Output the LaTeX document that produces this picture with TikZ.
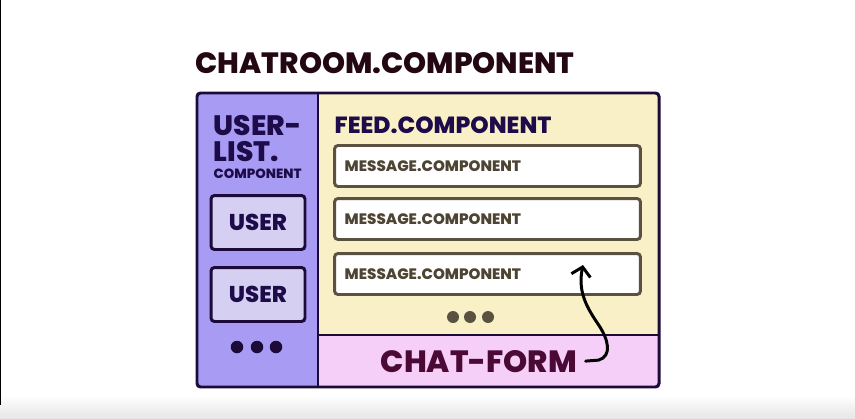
\documentclass[tikz,border=0pt]{standalone}
\usepackage{fontspec}
\setmainfont{Poppins}[BoldFont={Poppins ExtraBold}]
\usetikzlibrary{arrows.meta}

\definecolor{navy}{HTML}{1C0A38}
\definecolor{titlecol}{HTML}{230814}
\definecolor{feedcol}{HTML}{1E0C4A}
\definecolor{listfill}{HTML}{A89BF3}
\definecolor{userfill}{HTML}{D5D0F2}
\definecolor{feedfill}{HTML}{FAF0C8}
\definecolor{formfill}{HTML}{F6CFF8}
\definecolor{formcol}{HTML}{4A0A35}
\definecolor{msgline}{HTML}{5B5140}
\definecolor{msgcol}{HTML}{4D4433}

\begin{document}
\begin{tikzpicture}[x=0.02cm, y=-0.02cm, >={Straight Barb[length=5pt, width=11pt]}, thick,
    lbl/.style={inner sep=0pt, anchor=base west, font=\bfseries},
    msgbox/.style={draw=msgline, fill=white, line width=1.7pt, rounded corners=2pt,
        minimum width=6.12cm, minimum height=0.82cm},
    msgtxt/.style={inner sep=0pt, anchor=west, text=msgcol,
        font=\fontsize{8.6}{8.6}\selectfont\bfseries},
    userbox/.style={draw=navy, fill=userfill, line width=1.7pt, rounded corners=2pt,
        minimum width=1.88cm, minimum height=1.08cm, inner sep=0pt, text=feedcol,
        font=\fontsize{13}{13}\selectfont\bfseries},
    blob/.style={circle, fill=#1, inner sep=0pt, minimum size=0.25cm}
]
    \useasboundingbox (0,0) rectangle (855,419);

    % === 背景 ===
    \shade[top color=white, bottom color=black!10] (0,395) rectangle (855,419);
    \draw[line width=0.9pt, black] (0.5,0) -- (0.5,405);

    % === 標題 ===
    \node[lbl, text=titlecol, font=\fontsize{16.7}{16.7}\selectfont\bfseries] (chatroom) at (195,73) {CHATROOM.COMPONENT};

    % === 外框與面板 ===
    \fill[listfill] (197,93) rectangle (318,387);
    \fill[feedfill] (318,93) rectangle (659,335);
    \fill[formfill] (318,335) rectangle (659,387);
    \draw[navy, line width=1.4pt] (318,93) -- (318,387);
    \draw[navy, line width=1.4pt] (318,335) -- (659,335);
    \draw[navy, line width=1.7pt, rounded corners=2pt] (197,93) rectangle (659,387);

    % === user-list ===
    \node[lbl, text=feedcol, font=\fontsize{16}{16}\selectfont\bfseries] (ul1) at (213,135) {USER-};
    \node[lbl, text=feedcol, font=\fontsize{16}{16}\selectfont\bfseries] (ul2) at (213,161) {LIST.};
    \node[lbl, text=feedcol, font=\fontsize{7.6}{7.6}\selectfont\bfseries] (ul3) at (213,178) {COMPONENT};
    \node[userbox] (user1) at (258,222.5) {USER};
    \node[userbox] (user2) at (258,294.5) {USER};
    \foreach \i/\x in {1/237,2/257,3/276}
        \node[blob=navy] (udot\i) at (\x,347) {};

    % === feed ===
    \node[lbl, text=feedcol, font=\fontsize{13.3}{13.3}\selectfont\bfseries] (feed) at (334,133) {FEED.COMPONENT};
    \foreach \i/\y in {1/166,2/219,3/274} {
        \node[msgbox] (msg\i) at (487.5,\y) {};
        \node[msgtxt] (msgt\i) at ([xshift=0.22cm]msg\i.west) {MESSAGE.COMPONENT};
    }
    \foreach \i/\x in {1/453,2/470,3/488}
        \node[blob=msgline, minimum size=0.24cm] (fdot\i) at (\x,317) {};

    % === chat-form ===
    \node[lbl, text=formcol, font=\fontsize{17.5}{17.5}\selectfont\bfseries] (form) at (380,372) {CHAT-FORM};

    % 箭頭
    \coordinate (tip) at (583,265);
    \draw[->, line width=1.7pt, line cap=round, black] ([xshift=0.16cm]form.east) -- ++(13,-1)
        .. controls (612,356) and (609,340) .. (598,324)
        .. controls (585,305) and (578,290) .. (tip);

\end{tikzpicture}
\end{document}
